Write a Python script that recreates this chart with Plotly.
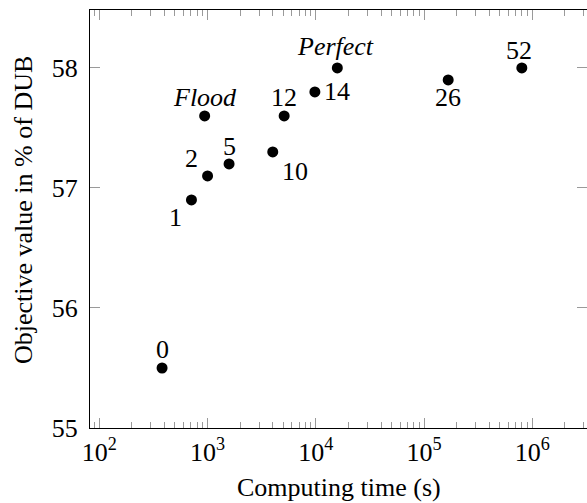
import math
import plotly.graph_objects as go

# Run configurations: computing time (s) vs objective value (% of DUB)
labels = ["0", "1", "2", "5", "10", "12", "14", "26", "52", "Flood", "Perfect"]
times = [380, 710, 1000, 1580, 4000, 5100, 9800, 167000, 800000, 940, 15800]
values = [55.5, 56.9, 57.1, 57.2, 57.3, 57.6, 57.8, 57.9, 58.0, 57.6, 58.0]

# label offsets in pixels (dx, dy; dy positive = up)
offsets = {
    "0": (0, 18), "1": (-16, -18), "2": (-16, 17), "5": (0, 17),
    "10": (22, -20), "12": (0, 18), "14": (22, 0), "26": (0, -18),
    "52": (-3, 17), "Flood": (0, 18), "Perfect": (-2, 21),
}

major_x = [1e2, 1e3, 1e4, 1e5, 1e6]
major_x_text = ["10<sup>2</sup>", "10<sup>3</sup>", "10<sup>4</sup>",
                "10<sup>5</sup>", "10<sup>6</sup>"]
minor_x = [m * 10 ** k for k in range(1, 7) for m in range(2, 10)]
y_ticks = [55, 56, 57, 58]

FONT = "'Liberation Serif', 'Times New Roman', 'DejaVu Serif', serif"
SIZE = 26

fig = go.Figure()
fig.add_trace(go.Scatter(
    x=times, y=values, mode="markers",
    marker=dict(color="black", size=11),
    showlegend=False, hoverinfo="skip",
))

for lab, t, v in zip(labels, times, values):
    dx, dy = offsets[lab]
    txt = f"<i>{lab}</i>" if lab in ("Flood", "Perfect") else lab
    fig.add_annotation(
        x=math.log10(t), y=v, text=txt, showarrow=False,
        xanchor="center", yanchor="middle", xshift=dx, yshift=dy,
        font=dict(family=FONT, size=SIZE, color="black"),
    )

fig.update_xaxes(
    type="log", range=[1.914, 6.505],
    tickvals=major_x, ticktext=major_x_text,
    ticks="inside", ticklen=10, tickwidth=1, tickcolor="#9a9a9a",
    minor=dict(tickvals=minor_x, ticks="inside", ticklen=6,
               tickwidth=1, tickcolor="#9a9a9a", showgrid=False),
    showline=True, linecolor="black", linewidth=1, mirror="ticks",
    showgrid=False, zeroline=False,
    tickfont=dict(family=FONT, size=SIZE, color="black"),
    ticklabelstandoff=1,
)
fig.update_yaxes(
    range=[55, 58.483], tickvals=y_ticks,
    ticks="inside", ticklen=10, tickwidth=1, tickcolor="#9a9a9a",
    showline=True, linecolor="black", linewidth=1, mirror="ticks",
    showgrid=False, zeroline=False,
    tickfont=dict(family=FONT, size=SIZE, color="black"),
    ticklabelstandoff=6,
)

fig.add_annotation(
    xref="paper", yref="paper", x=0.5, y=0, yshift=-59,
    text="Computing time (s)", showarrow=False,
    xanchor="center", yanchor="middle",
    font=dict(family=FONT, size=SIZE, color="black"),
)
fig.add_annotation(
    xref="paper", yref="paper", x=0, y=0.5, xshift=-67, yshift=9,
    text="Objective value in % of DUB", showarrow=False, textangle=-90,
    xanchor="center", yanchor="middle",
    font=dict(family=FONT, size=SIZE, color="black"),
)

fig.update_layout(
    width=587, height=503,
    margin=dict(l=90, r=0, t=10, b=75),
    plot_bgcolor="white", paper_bgcolor="white",
)

fig.write_html("out.html")
